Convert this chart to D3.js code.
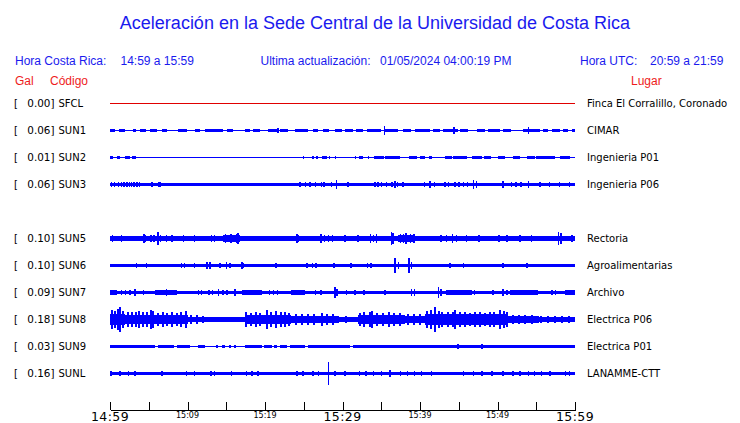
<!DOCTYPE html>
<html><head><meta charset="utf-8">
<script src="https://cdn.jsdelivr.net/npm/d3@7"></script>
<style>body{margin:0;background:#fff}svg{display:block}</style>
</head><body>
<script>
// ---------- DATA ----------
const slots = ["SFCL","SUN1","SUN2","SUN3","SUN4","SUN5","SUN6","SUN7","SUN8","SUN9","SUNL"];
const codes = ["SFCL","SUN1","SUN2","SUN3","SUN5","SUN6","SUN7","SUN8","SUN9","SUNL"];
const peakGal = [0.00,0.06,0.01,0.06,0.10,0.10,0.09,0.18,0.03,0.16];
const places = ["Finca El Corralillo, Coronado","CIMAR","Ingenieria P01","Ingenieria P06","Rectoria","Agroalimentarias","Archivo","Electrica P06","Electrica P01","LANAMME-CTT"];
const tickMinutes = [0,5,10,15,20,25,30,35,40,45,50,55,60];
const timeLabels = ["14:59","15:09","15:19","15:29","15:39","15:49","15:59"];
const labelMinutes = [0,10,20,30,40,50,60];

// band segments [startMin, endMin, amplitude Gal]; spikes [min, amplitude Gal]
const sfclBand = [];
const sfclSpikes = [];
const sun1Band = [[0,0.6,0.011],[1.1,1.9,0.011],[3.0,3.4,0.011],[3.9,4.7,0.011],[5.2,6.0,0.011],[6.7,7.3,0.011],[8.8,9.9,0.011],[11.0,11.6,0.011],[12.3,14.6,0.011],[15.1,15.9,0.011],[17.4,18.1,0.011],[18.5,19.4,0.011],[20.4,21.5,0.011],[21.9,23.0,0.011],[23.9,25.6,0.011],[26.2,26.9,0.011],[27.5,28.2,0.011],[29.0,29.9,0.011],[30.3,31.4,0.011],[31.8,32.7,0.011],[33.1,35.0,0.011],[35.5,37.2,0.011],[37.8,38.9,0.011],[39.3,41.3,0.011],[41.7,42.6,0.011],[43.0,44.9,0.011],[45.2,46.2,0.011],[47.3,48.4,0.011],[48.8,50.3,0.011],[50.7,51.8,0.011],[53.3,55.5,0.011],[55.9,56.5,0.011],[57.0,58.1,0.011],[58.5,59.1,0.011],[59.6,60,0.011]];
const sun1Spikes = [[6.0,0.02],[9.2,0.02],[21.7,0.035],[35.4,0.055],[44.4,0.045],[54.0,0.04]];
const sun2Band = [[0,0.4,0.01],[0.9,1.3,0.01],[1.9,2.6,0.01],[2.8,3.4,0.01],[24.9,25.0,0.01],[26.0,26.3,0.01],[26.6,26.9,0.01],[27.3,28.0,0.01],[29.0,29.1,0.01],[31.6,31.7,0.01],[32.1,32.7,0.01],[33.3,33.4,0.01],[34.0,35.3,0.01],[35.5,37.4,0.01],[38.6,39.6,0.01],[40.0,40.6,0.01],[41.1,41.5,0.01],[43.2,44.1,0.01],[44.3,46.0,0.01],[46.7,48.0,0.01],[48.2,49.2,0.01],[50.1,51.0,0.01],[52.0,52.9,0.01],[53.8,54.8,0.01],[55.0,57.4,0.01],[58.1,59.3,0.01]];
const sun2Spikes = [[0.3,0.015],[2.0,0.015],[28.3,0.015],[35.6,0.015],[44.6,0.015],[54.2,0.015]];
const sun3Band = [[0,60,0.017],[6.2,6.6,0.035],[31.4,33.3,0.022],[38.5,40.4,0.022],[43.0,46.2,0.022],[47.7,51.0,0.022],[54.6,60,0.022]];
const sun3Spikes = [[0.2,0.03],[0.6,0.03],[1.1,0.03],[1.5,0.03],[1.8,0.03],[2.2,0.03],[2.5,0.03],[2.8,0.03],[3.1,0.03],[3.5,0.03],[3.8,0.03],[5.4,0.025],[24.5,0.03],[25.2,0.025],[25.8,0.025],[26.5,0.03],[27.3,0.03],[27.6,0.03],[28.6,0.025],[29.2,0.06],[30.7,0.025],[34.2,0.03],[34.6,0.03],[35.0,0.03],[35.7,0.03],[36.4,0.035],[36.8,0.045],[37.1,0.035],[37.8,0.025],[40.6,0.035],[41.3,0.05],[41.9,0.03],[43.2,0.03],[43.7,0.03],[44.5,0.035],[45.0,0.035],[45.6,0.035],[46.1,0.035],[46.9,0.065],[47.3,0.04],[50.7,0.04],[51.8,0.03],[52.4,0.03],[53.0,0.03],[54.0,0.05],[55.5,0.03],[56.7,0.03],[58.0,0.03],[59.3,0.03]];
const sun5Band = [[0,60,0.03],[5.0,8.6,0.033],[14.6,16.8,0.04],[26.9,29.0,0.037],[33.3,35.0,0.037],[37.2,39.4,0.043],[42.4,45.0,0.036]];
const sun5Spikes = [[0.3,0.04],[0.8,0.035],[1.5,0.04],[2.3,0.035],[3.5,0.035],[4.4,0.065],[4.6,0.05],[5.3,0.045],[5.7,0.05],[6.2,0.095],[6.5,0.05],[7.3,0.04],[8.0,0.045],[9.5,0.05],[10.9,0.04],[11.8,0.035],[13.1,0.04],[13.5,0.04],[14.9,0.055],[15.3,0.05],[15.6,0.06],[16.0,0.05],[16.3,0.06],[16.5,0.07],[19.3,0.035],[20.6,0.035],[21.4,0.035],[24.1,0.055],[24.3,0.045],[27.2,0.065],[27.7,0.05],[28.2,0.05],[28.7,0.045],[30.3,0.04],[32.0,0.04],[33.6,0.06],[34.0,0.05],[34.4,0.06],[36.3,0.09],[36.5,0.07],[37.5,0.06],[37.9,0.055],[38.2,0.075],[38.8,0.065],[39.2,0.055],[42.7,0.05],[43.4,0.05],[44.2,0.055],[44.7,0.045],[46.0,0.04],[47.6,0.04],[49.0,0.035],[50.2,0.045],[51.2,0.04],[52.9,0.04],[54.4,0.04],[55.6,0.035],[57.9,0.09],[58.2,0.07],[59.6,0.04]];
const sun6Band = [[0,60,0.015]];
const sun6Spikes = [[3.4,0.03],[4.7,0.025],[8.0,0.02],[9.2,0.03],[9.6,0.03],[10.9,0.025],[12.5,0.045],[12.9,0.04],[14.2,0.025],[15.0,0.05],[15.5,0.035],[17.0,0.04],[17.2,0.035],[18.3,0.02],[19.0,0.02],[19.7,0.02],[21.4,0.025],[22.6,0.02],[23.4,0.02],[25.4,0.035],[26.1,0.025],[26.6,0.025],[27.7,0.02],[28.9,0.025],[31.1,0.025],[33.2,0.025],[33.7,0.025],[35.7,0.02],[36.8,0.1],[37.2,0.04],[38.6,0.1],[38.9,0.04],[42.8,0.02],[43.9,0.025],[45.6,0.03],[48.4,0.02],[50.7,0.03],[53.8,0.03],[57.0,0.02]];
const sun7Band = [[0,60,0.017],[0,0.9,0.028],[5.8,8.6,0.023],[17.0,19.6,0.023],[23.4,25.2,0.023],[30.0,33.5,0.021],[34.8,38.3,0.021],[43.4,46.7,0.023],[51.6,55.2,0.023],[58.7,60,0.028]];
const sun7Spikes = [[1.5,0.035],[2.0,0.03],[2.6,0.035],[3.2,0.04],[4.3,0.025],[6.3,0.03],[7.3,0.04],[8.0,0.03],[11.4,0.035],[11.8,0.035],[12.8,0.03],[13.2,0.03],[14.0,0.04],[14.6,0.035],[15.1,0.035],[16.1,0.045],[17.5,0.03],[18.6,0.035],[20.6,0.035],[21.1,0.03],[21.6,0.03],[24.2,0.03],[26.5,0.03],[27.2,0.035],[29.0,0.075],[29.3,0.04],[30.5,0.03],[31.6,0.03],[32.8,0.03],[35.5,0.025],[38.9,0.045],[39.3,0.04],[42.4,0.075],[42.7,0.04],[43.7,0.03],[45.7,0.03],[47.0,0.03],[49.4,0.03],[50.7,0.04],[51.2,0.03],[52.7,0.03],[54.9,0.03],[57.0,0.03],[57.5,0.03],[59.2,0.035]];
const sun8Band = [[0,60,0.025],[0,1.9,0.075],[1.9,5.8,0.065],[5.8,10.1,0.055],[10.1,12.9,0.037],[17.4,23.4,0.065],[23.4,29.5,0.05],[29.5,32.0,0.03],[32.0,38.0,0.06],[38.0,40.6,0.05],[40.6,43.2,0.08],[43.2,51.4,0.07],[51.4,55.3,0.042],[55.3,60,0.037]];
const sun8Spikes = [[0.2,0.14],[0.6,0.12],[1.0,0.15],[1.3,0.175],[1.7,0.12],[2.3,0.1],[2.8,0.11],[3.3,0.1],[3.8,0.12],[4.3,0.1],[4.8,0.11],[5.3,0.14],[5.6,0.12],[6.2,0.09],[6.8,0.1],[7.4,0.09],[8.0,0.1],[8.6,0.085],[9.2,0.1],[9.8,0.12],[10.4,0.06],[11.2,0.055],[12.0,0.05],[17.6,0.1],[18.2,0.09],[18.8,0.1],[19.4,0.09],[20.3,0.14],[20.8,0.11],[21.4,0.12],[22.0,0.1],[22.6,0.1],[23.1,0.09],[24.0,0.075],[24.8,0.07],[25.6,0.08],[26.3,0.07],[27.3,0.095],[28.0,0.075],[28.8,0.07],[30.5,0.045],[32.2,0.09],[32.8,0.1],[33.5,0.1],[33.8,0.125],[34.5,0.09],[35.2,0.09],[36.0,0.1],[36.7,0.09],[37.4,0.095],[38.4,0.07],[39.2,0.07],[40.0,0.075],[40.9,0.12],[41.4,0.13],[41.9,0.18],[42.4,0.12],[42.9,0.11],[43.6,0.1],[44.2,0.11],[44.5,0.14],[45.1,0.1],[45.8,0.1],[46.5,0.09],[47.1,0.1],[47.8,0.1],[48.4,0.09],[49.0,0.1],[49.6,0.1],[50.3,0.13],[50.8,0.12],[51.2,0.11],[52.0,0.06],[52.8,0.065],[53.6,0.06],[54.5,0.06],[55.6,0.05],[56.5,0.05],[57.4,0.05],[58.3,0.045],[59.2,0.05]];
const sun9Band = [[0,5.8,0.015],[6.2,8.2,0.015],[8.6,10.3,0.015],[11.4,12.3,0.015],[13.7,13.9,0.015],[14.4,14.8,0.015],[15.4,15.6,0.015],[16.0,16.2,0.015],[17.4,19.6,0.015],[19.9,20.9,0.015],[21.2,21.6,0.015],[21.9,22.9,0.015],[23.2,25.2,0.015],[25.5,31.0,0.015],[31.3,60,0.015]];
const sun9Spikes = [[44.9,0.03],[47.0,0.02],[48.0,0.025],[56.3,0.02]];
const sunlBand = [[0,60,0.017]];
const sunlSpikes = [[0.1,0.03],[1.3,0.03],[2.4,0.03],[3.2,0.03],[6.7,0.03],[9.9,0.035],[10.9,0.025],[13.0,0.03],[13.5,0.03],[15.7,0.025],[17.6,0.03],[18.3,0.03],[19.1,0.025],[24.1,0.035],[24.9,0.025],[26.2,0.03],[26.9,0.03],[28.2,0.16],[29.0,0.025],[30.3,0.025],[32.2,0.025],[33.0,0.025],[34.0,0.025],[35.0,0.025],[36.1,0.04],[37.5,0.025],[38.4,0.025],[39.3,0.025],[40.2,0.025],[41.5,0.035],[45.6,0.025],[46.9,0.03],[48.0,0.025],[49.3,0.025],[50.7,0.03],[52.0,0.025],[52.9,0.03],[54.0,0.025],[54.8,0.025],[55.7,0.03],[56.8,0.025],[58.8,0.03],[59.3,0.03]];

const bands = [sfclBand,sun1Band,sun2Band,sun3Band,sun5Band,sun6Band,sun7Band,sun8Band,sun9Band,sunlBand];
const spikes = [sfclSpikes,sun1Spikes,sun2Spikes,sun3Spikes,sun5Spikes,sun6Spikes,sun7Spikes,sun8Spikes,sun9Spikes,sunlSpikes];
const traceColors = ["#e00000","#0000ff","#0000ff","#0000ff","#0000ff","#0000ff","#0000ff","#0000ff","#0000ff","#0000ff"];

// ---------- CHART ----------
const W = 740, H = 423;
const svg = d3.select("body").append("svg").attr("width", W).attr("height", H);
const blue = "#1a1aee", red = "#ee1c1c";
const sans = "'Liberation Sans', Arial, sans-serif";
const dv = "'DejaVu Sans', sans-serif";

const x = d3.scaleLinear().domain([0, 60]).range([110, 575]);
const y = d3.scalePoint().domain(slots).range([103.5, 373.5]);
const amp = d3.scaleLinear().domain([0, 0.18]).range([0, 12]);

svg.append("text").attr("x", 375).attr("y", 28.5).attr("text-anchor", "middle")
  .attr("font-family", sans).attr("font-size", 18).attr("fill", blue)
  .text("Aceleración en la Sede Central de la Universidad de Costa Rica");

const hdr = [
  ["Hora Costa Rica:", 15], ["14:59 a 15:59", 120.5],
  ["Ultima actualización:", 260.5], ["01/05/2024 04:00:19 PM", 380],
  ["Hora UTC:", 580], ["20:59 a 21:59", 650]
];
svg.append("g").selectAll("text").data(hdr).join("text")
  .attr("x", d => d[1]).attr("y", 64.5)
  .attr("font-family", sans).attr("font-size", 12).attr("fill", blue).text(d => d[0]);

svg.append("text").attr("x", 15).attr("y", 84.5).attr("font-family", sans).attr("font-size", 12).attr("fill", red).text("Gal");
svg.append("text").attr("x", 50).attr("y", 84.5).attr("font-family", sans).attr("font-size", 12).attr("fill", red).text("Código");
svg.append("text").attr("x", 631).attr("y", 84.5).attr("font-family", sans).attr("font-size", 12).attr("fill", red).text("Lugar");

const rows = codes.map((c, i) => ({code: c, gal: peakGal[i], place: places[i], band: bands[i], spikes: spikes[i], color: traceColors[i], wide: c === "SUN8"}));

const rg = svg.append("g").selectAll("g").data(rows).join("g")
  .attr("transform", d => `translate(0,${y(d.code)})`);

rg.append("text").attr("x", 14).attr("y", 3.5).attr("font-family", dv).attr("font-size", 10).attr("fill", "#000").text("[");
rg.append("text").attr("x", 27.3).attr("y", 3.5).attr("font-family", dv).attr("font-size", 10.4).attr("fill", "#000").text(d => d.gal.toFixed(2) + "]");
rg.append("text").attr("x", 58.5).attr("y", 3.5).attr("font-family", dv).attr("font-size", 10).attr("fill", "#000").text(d => d.code);
rg.append("text").attr("x", 587).attr("y", 3.5).attr("font-family", dv).attr("font-size", 10).attr("fill", "#000").text(d => d.place);

// baseline
rg.append("rect").attr("x", x(0)).attr("width", x(60) - x(0)).attr("y", -0.5).attr("height", 1)
  .attr("fill", d => d.color).attr("shape-rendering", "crispEdges");
// bands and spikes
rg.each(function(d) {
  const g = d3.select(this);
  const sw = d.wide ? 2 : 1.5;
  g.selectAll("rect.band").data(d.band).join("rect").attr("class", "band")
    .attr("x", s => x(s[0])).attr("width", s => Math.max(1, x(s[1]) - x(s[0])))
    .attr("y", s => -amp(s[2]) - 0.5).attr("height", s => 2 * amp(s[2]) + 1)
    .attr("fill", d.color).attr("shape-rendering", "crispEdges");
  g.selectAll("rect.spk").data(d.spikes).join("rect").attr("class", "spk")
    .attr("x", s => x(s[0]) - sw / 2).attr("width", sw)
    .attr("y", s => -amp(s[1]) - 0.5).attr("height", s => 2 * amp(s[1]) + 1)
    .attr("fill", d.color).attr("shape-rendering", "crispEdges");
});

// time axis
const ax = svg.append("g").attr("transform", "translate(0,409.5)")
  .call(d3.axisTop(x).tickValues(tickMinutes).tickSize(8).tickSizeOuter(0).tickFormat(""));
ax.select(".domain").attr("stroke", "#000").attr("shape-rendering", "crispEdges");
ax.selectAll(".tick line").attr("stroke", "#000").attr("shape-rendering", "crispEdges");

svg.append("g").selectAll("text").data(labelMinutes).join("text")
  .attr("x", d => x(d)).attr("y", d => (d % 30 === 0) ? 420.5 : 417.5)
  .attr("text-anchor", "middle").attr("font-family", dv)
  .attr("font-size", d => (d % 30 === 0) ? 12.5 : 8).attr("fill", "#000")
  .attr("letter-spacing", d => (d % 30 === 0) ? 0.4 : 0)
  .text((d, i) => timeLabels[i]);
</script>
</body></html>
